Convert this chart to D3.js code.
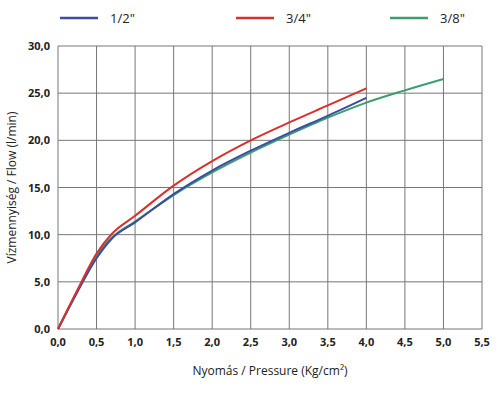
<!DOCTYPE html>
<html>
<head>
<meta charset="utf-8">
<script src="https://cdn.jsdelivr.net/npm/d3@7"></script>
<style>
  body { margin: 0; background: #fff; font-family: "Open Sans", sans-serif; }
</style>
</head>
<body>
<svg id="chart" width="500" height="413"></svg>
<script>
// data
let seriesNames = ['1/2"', '3/4"', '3/8"'];
let seriesColors = ["#3a4da0", "#d9302c", "#3c9e6e"];
let halfX = [0, 0.25, 0.5, 0.7, 1, 1.5, 2, 2.5, 3, 3.5, 4];
let halfY = [0, 3.9, 7.5, 9.6, 11.3, 14.3, 16.8, 18.9, 20.8, 22.6, 24.5];
let threeQX = [0, 0.25, 0.5, 0.7, 1, 1.5, 2, 2.5, 3, 3.5, 4];
let threeQY = [0, 4.1, 8.0, 10.1, 12.0, 15.2, 17.8, 20.0, 21.9, 23.7, 25.5];
let eighthX = [0, 0.25, 0.5, 0.7, 1, 1.5, 2, 2.5, 3, 3.5, 4, 4.5, 5];
let eighthY = [0, 4.0, 7.8, 9.7, 11.4, 14.2, 16.6, 18.7, 20.6, 22.4, 24.0, 25.3, 26.5];
let xTicks = d3.range(0, 5.51, 0.5);
let yTicks = d3.range(0, 30.1, 5);

let svg = d3.select("#chart");
let x = d3.scaleLinear().domain([0, 5.5]).range([58, 482]);
let y = d3.scaleLinear().domain([0, 30]).range([329, 46]);
let fmt = d => d.toFixed(1).replace(".", ",");

// grid
svg.append("g").selectAll("line").data(xTicks).join("line")
  .attr("x1", d => x(d)).attr("x2", d => x(d)).attr("y1", y(0)).attr("y2", y(30))
  .attr("stroke", "#777").attr("stroke-width", 1);
svg.append("g").selectAll("line").data(yTicks).join("line")
  .attr("x1", x(0)).attr("x2", x(5.5)).attr("y1", d => y(d)).attr("y2", d => y(d))
  .attr("stroke", "#777").attr("stroke-width", 1);

// tick labels
svg.append("g").selectAll("text").data(xTicks).join("text")
  .attr("x", d => x(d)).attr("y", 346).attr("text-anchor", "middle")
  .attr("font-size", 11).attr("font-weight", "bold").attr("fill", "#222").text(fmt);
svg.append("g").selectAll("text").data(yTicks).join("text")
  .attr("x", 50).attr("y", d => y(d) + 4).attr("text-anchor", "end")
  .attr("font-size", 11).attr("font-weight", "bold").attr("fill", "#222").text(fmt);

// axis titles
svg.append("text").attr("x", 270).attr("y", 375).attr("text-anchor", "middle")
  .attr("font-size", 12).attr("fill", "#222").text("Nyomás / Pressure (Kg/cm²)");
svg.append("text").attr("transform", "translate(16," + y(15) + ") rotate(-90)")
  .attr("text-anchor", "middle").attr("font-size", 12).attr("fill", "#222")
  .text("Vízmennyiség / Flow (l/min)");

// lines
let line = d3.line().curve(d3.curveMonotoneX).x(d => x(d[0])).y(d => y(d[1]));
let allX = [halfX, threeQX, eighthX];
let allY = [halfY, threeQY, eighthY];
[2, 0, 1].forEach(i => {
  svg.append("path").datum(d3.zip(allX[i], allY[i])).attr("d", line)
    .attr("fill", "none").attr("stroke", seriesColors[i]).attr("stroke-width", 2);
});

// legend
let legendX = [60, 236, 390];
seriesNames.forEach((name, i) => {
  svg.append("line").attr("x1", legendX[i]).attr("x2", legendX[i] + 38)
    .attr("y1", 18).attr("y2", 18).attr("stroke", seriesColors[i]).attr("stroke-width", 2.5);
  svg.append("text").attr("x", legendX[i] + 50).attr("y", 23)
    .attr("font-size", 13).attr("fill", "#222").text(name);
});
</script>
</body>
</html>
